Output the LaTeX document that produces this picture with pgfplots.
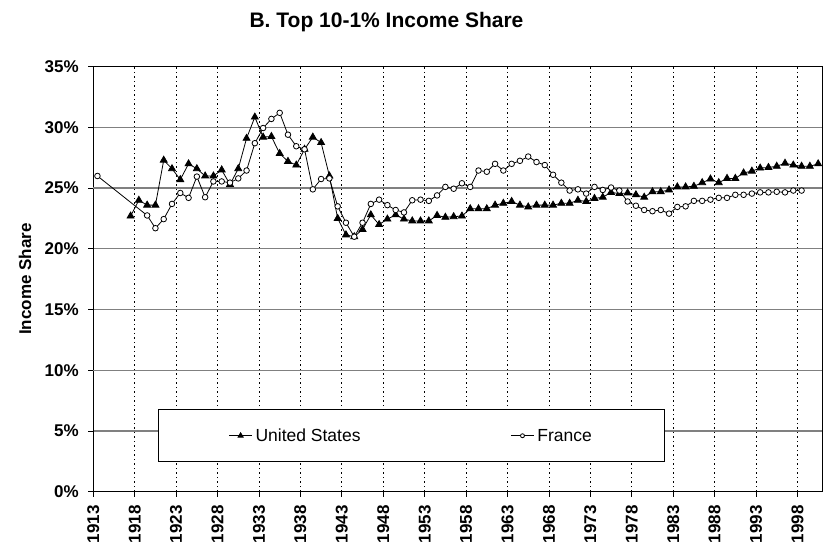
\documentclass[border=0pt]{standalone}
\usepackage{fontspec}
\setmainfont{Liberation Sans}
\usepackage{pgfplots}
\pgfplotsset{compat=1.18}

\begin{document}
\begin{tikzpicture}
\useasboundingbox (0,0) rectangle (825pt,546pt);
\begin{axis}[
    at={(93.3pt,54.3pt)}, anchor=south west,
    scale only axis, width=729pt, height=425pt,
    xmin=1912.5, xmax=2000.5, ymin=0, ymax=35,
    xtick={1912.5,1917.5,...,1997.5},
    xticklabels={1913,1918,1923,1928,1933,1938,1943,1948,1953,1958,1963,1968,1973,1978,1983,1988,1993,1998},
    ytick={0,5,...,35},
    yticklabels={0\%,5\%,10\%,15\%,20\%,25\%,30\%,35\%},
    tick pos=left,
    tick align=outside, major tick length=5pt,
    tick style={black, line width=0.8pt},
    xmajorgrids, ymajorgrids,
    x grid style={black, line width=0.8pt, dash pattern=on 1.5pt off 3pt},
    y grid style={black!50, line width=1.3pt},
    extra y ticks={10,25}, extra y tick labels={},
    extra y tick style={grid style={black, line width=1pt}},
    axis line style={black, line width=1pt},
    ticklabel style={font=\fontsize{17}{20}\selectfont\bfseries},
    xticklabel style={yshift=-5pt, rotate=90, anchor=east},
    yticklabel style={xshift=-6pt},
    legend columns=2,
    legend cell align=left,
    legend style={at={(0.0892,0.194)}, anchor=north west, draw=black, line width=0.8pt,
        fill=white, font=\fontsize{17.5}{20}\selectfont, inner xsep=70pt, inner ysep=16pt,
        nodes={inner sep=3pt},
        /tikz/every even column/.append style={column sep=147pt}},
    legend image code/.code={\draw[#1, mark repeat=2, mark phase=2]
        plot coordinates {(0pt,0pt) (11.5pt,0pt) (23pt,0pt)};},
]
% United States
\addplot[black, line width=0.8pt, mark=triangle*, mark size=4pt,
    mark options={solid, fill=black}, legend image post style={mark size=3pt}]
coordinates {
(1917,22.7) (1918,24.0) (1919,23.6) (1920,23.6) (1921,27.3) (1922,26.6)
(1923,25.7) (1924,27.0) (1925,26.6) (1926,26.0) (1927,26.0) (1928,26.5)
(1929,25.3) (1930,26.6) (1931,29.1) (1932,30.85) (1933,29.2) (1934,29.25)
(1935,27.85) (1936,27.2) (1937,26.9) (1938,28.2) (1939,29.2) (1940,28.75)
(1941,26.0) (1942,22.5) (1943,21.15) (1944,21.0) (1945,21.6) (1946,22.8)
(1947,22.0) (1948,22.45) (1949,22.8) (1950,22.45) (1951,22.3) (1952,22.3)
(1953,22.3) (1954,22.75) (1955,22.6) (1956,22.65) (1957,22.7) (1958,23.3)
(1959,23.3) (1960,23.3) (1961,23.6) (1962,23.75) (1963,23.9) (1964,23.6)
(1965,23.45) (1966,23.6) (1967,23.6) (1968,23.6) (1969,23.75) (1970,23.75)
(1971,24.0) (1972,23.9) (1973,24.15) (1974,24.25) (1975,24.65) (1976,24.55)
(1977,24.6) (1978,24.45) (1979,24.25) (1980,24.7) (1981,24.7) (1982,24.85)
(1983,25.1) (1984,25.1) (1985,25.15) (1986,25.45) (1987,25.75) (1988,25.45)
(1989,25.8) (1990,25.8) (1991,26.25) (1992,26.4) (1993,26.65) (1994,26.7)
(1995,26.8) (1996,27.05) (1997,26.9) (1998,26.8) (1999,26.8) (2000,27.0)
};
\addlegendentry{United States}
% France
\addplot[black, line width=0.8pt, mark=*, mark size=2.8pt,
    mark options={solid, fill=white, line width=0.8pt}, legend image post style={mark size=2pt}]
coordinates {
(1913,26.0) (1919,22.75) (1920,21.7) (1921,22.45) (1922,23.7) (1923,24.6)
(1924,24.2) (1925,25.95) (1926,24.25) (1927,25.55) (1928,25.55) (1929,25.45)
(1930,25.8) (1931,26.45) (1932,28.7) (1933,29.95) (1934,30.7) (1935,31.2)
(1936,29.4) (1937,28.45) (1938,28.2) (1939,24.9) (1940,25.75) (1941,25.8)
(1942,23.5) (1943,22.15) (1944,21.0) (1945,22.15) (1946,23.7) (1947,24.05)
(1948,23.6) (1949,23.2) (1950,23.0) (1951,24.0) (1952,24.05) (1953,23.95)
(1954,24.4) (1955,25.1) (1956,24.95) (1957,25.4) (1958,25.1) (1959,26.45)
(1960,26.35) (1961,27.0) (1962,26.45) (1963,27.0) (1964,27.25) (1965,27.6)
(1966,27.15) (1967,26.9) (1968,26.1) (1969,25.45) (1970,24.8) (1971,24.9)
(1972,24.55) (1973,25.1) (1974,24.85) (1975,25.05) (1976,24.8) (1977,23.9)
(1978,23.55) (1979,23.2) (1980,23.1) (1981,23.2) (1982,22.9) (1983,23.45)
(1984,23.5) (1985,23.95) (1986,23.95) (1987,24.05) (1988,24.2) (1989,24.2)
(1990,24.45) (1991,24.45) (1992,24.55) (1993,24.65) (1994,24.65) (1995,24.7)
(1996,24.65) (1997,24.8) (1998,24.8)
};
\addlegendentry{France}
\end{axis}
\node[font=\fontsize{21}{24}\selectfont\bfseries] at (386.5pt,524pt) {B. Top 10-1\% Income Share};
\node[rotate=90, font=\fontsize{17}{20}\selectfont\bfseries] at (25pt,266.8pt) {Income Share};
\end{tikzpicture}
\end{document}
